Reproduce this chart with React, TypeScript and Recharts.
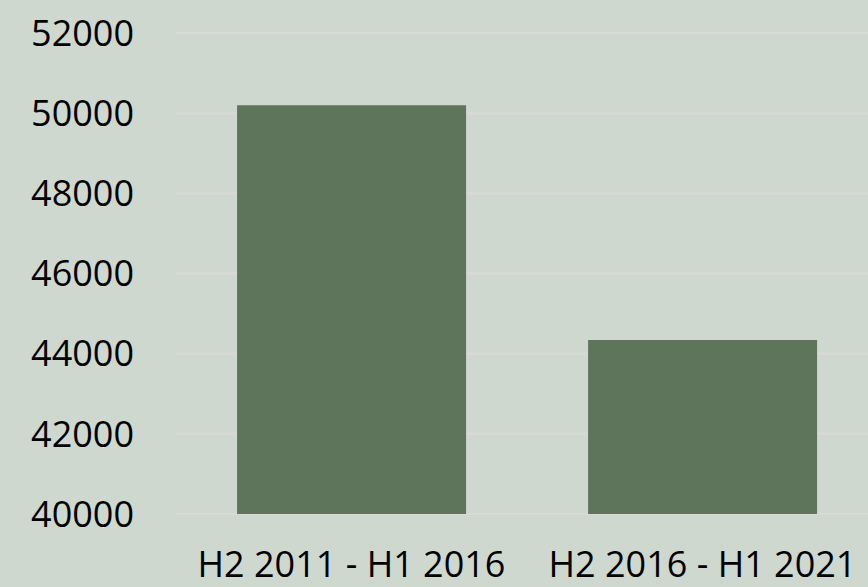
import { BarChart, Bar, XAxis, YAxis, CartesianGrid } from 'recharts';

const periods = ['H2 2011 - H1 2016', 'H2 2016 - H1 2021'];
const values = [50200, 44340];
const yTicks = [40000, 42000, 44000, 46000, 48000, 50000, 52000];

const data = periods.map((period, i) => ({ period, value: values[i] }));

const font = { fontFamily: '"Open Sans", sans-serif', fontSize: 36, fill: '#000' };

export default function App() {
  return (
    <div
      style={{
        position: 'absolute',
        left: 0,
        top: 0,
        width: 868,
        height: 587,
        overflow: 'hidden',
        background: '#CED8CF',
      }}
    >
      <BarChart
        width={878}
        height={587}
        data={data}
        margin={{ top: 33, right: 0, left: 0, bottom: 0 }}
        barCategoryGap="17.4%"
      >
        <CartesianGrid vertical={false} stroke="#D9D9D9" strokeWidth={2} />
        <XAxis
          dataKey="period"
          axisLine={false}
          tickLine={false}
          tickSize={0}
          tickMargin={37}
          height={73}
          tick={font}
          interval={0}
        />
        <YAxis
          domain={[40000, 52000]}
          ticks={yTicks}
          axisLine={false}
          tickLine={false}
          tickSize={0}
          tickMargin={42}
          width={176}
          tick={font}
        />
        <Bar dataKey="value" fill="#5E755C" isAnimationActive={false} />
      </BarChart>
    </div>
  );
}
